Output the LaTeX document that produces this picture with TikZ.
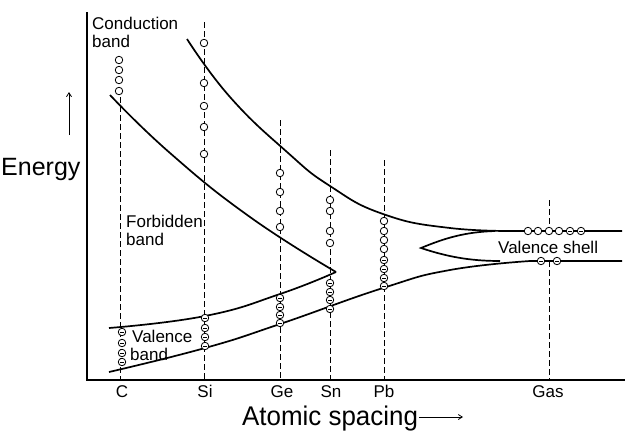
\documentclass[tikz,border=0pt]{standalone}
\usepackage{fontspec}
\setmainfont{Liberation Sans}
\usetikzlibrary{arrows.meta}
\begin{document}
\begin{tikzpicture}[x=1pt,y=-1pt,
  curve/.style={line width=1.7pt},
  axisline/.style={line width=1.8pt},
  guide/.style={line width=0.9pt, dash pattern=on 6pt off 3pt},
  el/.style={circle, draw, fill=white, inner sep=0pt, minimum size=7.5pt, line width=0.8pt},
  elm/.style={el, path picture={\draw[line width=0.7pt] ([xshift=-2pt]path picture bounding box.center) -- ([xshift=2pt]path picture bounding box.center);}},
  lbl/.style={inner sep=0pt, font=\fontsize{17}{19}\selectfont},
  big/.style={inner sep=0pt, font=\fontsize{25}{28}\selectfont},
  thinarrow/.style={line width=0.8pt, -{Straight Barb[length=4pt,width=5pt]}},
]
\useasboundingbox (0,0) rectangle (630,440);

% axes
\coordinate (ytop) at (87,12);
\coordinate (origin) at (87,380);
\coordinate (xend) at (625,380);
\draw[axisline] (ytop) -- (origin) -- (xend);

% guide lines
\coordinate (Ct) at (120,97);  \coordinate (Cb) at (120,380);
\coordinate (St) at (204,22);  \coordinate (Sb) at (204,380);
\coordinate (Gt) at (280,120); \coordinate (Gb) at (280,380);
\coordinate (Nt) at (330,150); \coordinate (Nb) at (330,380);
\coordinate (Pt) at (384,160); \coordinate (Pb) at (384,380);
\coordinate (Xt) at (549,200); \coordinate (Xm) at (549,231);
\coordinate (Xn) at (549,261); \coordinate (Xb) at (549,380);
\draw[guide] (Ct) -- (Cb);
\draw[guide] (St) -- (Sb);
\draw[guide] (Gt) -- (Gb);
\draw[guide] (Nt) -- (Nb);
\draw[guide] (Pt) -- (Pb);
\draw[guide] (Xt) -- (Xm);
\draw[guide] (Xn) -- (Xb);

% band curves
\draw[curve] plot[smooth, tension=0.8] coordinates {(187,39) (230,97) (287,152) (330,186) (383,214) (450,228) (525,231)} -- (622,231);
\draw[curve] plot[smooth, tension=0.8] coordinates {(110,95) (170,153) (250,217) (336,272)};
\draw[curve] plot[smooth, tension=0.8] coordinates {(336,272) (280,294) (205,316) (109,328)};
\draw[curve] plot[smooth, tension=0.8] coordinates {(109,372) (205,348) (280,324) (383,288) (450,270) (530,261)} -- (622,261);
% fork
\coordinate (tip) at (421,248);
\draw[curve] (495,231) .. controls (465,232) and (445,238) .. (tip) .. controls (445,256) and (468,261) .. (500,261);

% electrons
\foreach \y [count=\i] in {60,70,80,91} \node[el] (co\i) at (119,\y) {};
\foreach \y [count=\i] in {332,343,353,362} \node[elm] (cv\i) at (122,\y) {};
\foreach \y [count=\i] in {43,83,106,127,154} \node[el] (so\i) at (204,\y) {};
\foreach \y [count=\i] in {318,328,337,346} \node[elm] (sv\i) at (205,\y) {};
\foreach \y [count=\i] in {173,192,211,227} \node[el] (go\i) at (280,\y) {};
\foreach \y [count=\i] in {298,307,315,323} \node[elm] (gv\i) at (280,\y) {};
\foreach \y [count=\i] in {200,211,231,243} \node[el] (no\i) at (330,\y) {};
\foreach \y [count=\i] in {283,292,300,309} \node[elm] (nv\i) at (330,\y) {};
\foreach \y [count=\i] in {221,231,240,249} \node[el] (po\i) at (384,\y) {};
\foreach \y [count=\i] in {260,269,278,286} \node[elm] (pv\i) at (384,\y) {};
\foreach \x [count=\i] in {528,538,549,559} \node[el] (xo\i) at (\x,231) {};
\foreach \x [count=\i] in {570,581} \node[elm] (xm\i) at (\x,231) {};
\foreach \x [count=\i] in {541,557} \node[elm] (xv\i) at (\x,261) {};

% labels
\node[lbl, anchor=base west] (cond1) at (92,29) {Conduction};
\node[lbl, anchor=base west] (cond2) at (92,47) {band};
\node[lbl, anchor=base west] (forb1) at (126,227) {Forbidden};
\node[lbl, anchor=base west] (forb2) at (126,245) {band};
\node[lbl, anchor=base west] (val1) at (132,342) {Valence};
\node[lbl, anchor=base west] (val2) at (130,360) {band};
\node[lbl, anchor=base west] (vshell) at (498,253) {Valence shell};

\node[lbl, anchor=base] (lC) at (122,397) {C};
\node[lbl, anchor=base] (lSi) at (205,397) {Si};
\node[lbl, anchor=base] (lGe) at (282,397) {Ge};
\node[lbl, anchor=base] (lSn) at (331,397) {Sn};
\node[lbl, anchor=base] (lPb) at (384,397) {Pb};
\node[lbl, anchor=base] (lGas) at (548,397) {Gas};

\node[big, anchor=base west] (energy) at (1,175) {Energy};
\coordinate (ea) at (69,135);
\coordinate (eb) at (69,92);
\draw[thinarrow] (ea) -- (eb);

\node[big, anchor=base west] (xlab) at (242,425) {\scalebox{0.96}[1]{\fontsize{27}{30}\selectfont Atomic spacing}};
\coordinate (xa) at (463,417);
\draw[thinarrow] ([xshift=1pt,yshift=8pt]xlab.base east) -- (xa);
\end{tikzpicture}
\end{document}
